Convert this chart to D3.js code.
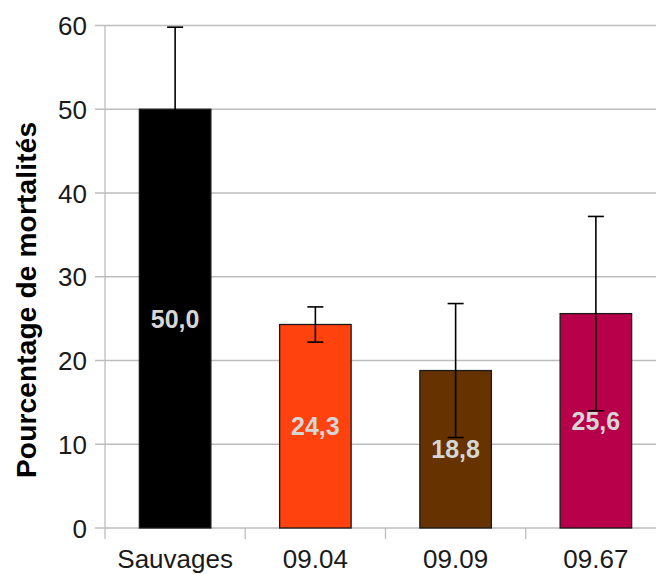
<!DOCTYPE html>
<html>
<head>
<meta charset="utf-8">
<script src="https://cdn.jsdelivr.net/npm/d3@7"></script>
<style>
  html, body { margin: 0; padding: 0; background: #ffffff; }
  svg { display: block; }
</style>
</head>
<body>
<svg id="chart" width="656" height="574"></svg>
<script>
const categories = ["Sauvages", "09.04", "09.09", "09.67"];
const values = [50.0, 24.3, 18.8, 25.6];
const errors = [9.8, 2.1, 8.0, 11.6];
const valueLabels = ["50,0", "24,3", "18,8", "25,6"];
const barColors = ["#000000", "#ff420e", "#663300", "#b8004a"];
const yTicks = [0, 10, 20, 30, 40, 50, 60];
const yTitle = "Pourcentage de mortalités";

(function () {
const svg = d3.select("#chart");
const W = 656;
const pLeft = 105, pRight = 666, pTop = 25.5, pBottom = 528;
const font = "'Liberation Sans', Arial, sans-serif";

const x = d3.scaleBand().domain(categories).range([pLeft, pRight]).padding(0);
const y = d3.scaleLinear().domain([0, 60]).range([pBottom, pTop]);
const barW = x.bandwidth() * 0.51;

// gridlines
svg.append("g").selectAll("line").data(yTicks).join("line")
  .attr("x1", pLeft - 10).attr("x2", W)
  .attr("y1", d => y(d)).attr("y2", d => y(d))
  .attr("stroke", "#bdbdbd").attr("stroke-width", 1.3);

// y axis line
svg.append("line")
  .attr("x1", pLeft).attr("x2", pLeft)
  .attr("y1", y(60)).attr("y2", pBottom + 11)
  .attr("stroke", "#bdbdbd").attr("stroke-width", 1.3);

// category separators
svg.append("g").selectAll("line").data(categories).join("line")
  .attr("x1", d => x(d) + x.bandwidth())
  .attr("x2", d => x(d) + x.bandwidth())
  .attr("y1", pBottom).attr("y2", pBottom + 11)
  .attr("stroke", "#bdbdbd").attr("stroke-width", 1.3);

// y axis labels
const yAxis = d3.axisLeft(y).tickValues(yTicks).tickSize(0).tickPadding(0).tickFormat(d3.format("d"));
const gy = svg.append("g").attr("transform", `translate(${pLeft - 18},0)`).call(yAxis);
gy.select(".domain").remove();
gy.selectAll("text").attr("font-family", font).attr("font-size", 26).attr("fill", "#1a1a1a").attr("dy", "0.35em");

// x axis labels
const xAxis = d3.axisBottom(x).tickSize(0).tickPadding(0);
const gx = svg.append("g").attr("transform", `translate(0,${pBottom})`).call(xAxis);
gx.select(".domain").remove();
gx.selectAll("text").attr("font-family", font).attr("font-size", 26).attr("fill", "#1a1a1a")
  .attr("y", 40).attr("dy", 0);

// bars
svg.append("g").selectAll("rect").data(categories).join("rect")
  .attr("x", d => x(d) + (x.bandwidth() - barW) / 2)
  .attr("y", (d, i) => y(values[i]))
  .attr("width", barW)
  .attr("height", (d, i) => y(0) - y(values[i]))
  .attr("fill", (d, i) => barColors[i])
  .attr("stroke", "#1a1a1a").attr("stroke-width", 1.3);

// error bars
const eb = svg.append("g").attr("stroke", "#000").attr("stroke-width", 1.6);
categories.forEach((c, i) => {
  const cx = x(c) + x.bandwidth() / 2;
  const hi = y(values[i] + errors[i]), lo = y(values[i] - errors[i]);
  eb.append("line").attr("x1", cx).attr("x2", cx).attr("y1", hi).attr("y2", lo);
  eb.append("line").attr("x1", cx - 8).attr("x2", cx + 8).attr("y1", hi).attr("y2", hi);
  eb.append("line").attr("x1", cx - 8).attr("x2", cx + 8).attr("y1", lo).attr("y2", lo);
});

// value labels
svg.append("g").selectAll("text").data(categories).join("text")
  .attr("x", d => x(d) + x.bandwidth() / 2)
  .attr("y", (d, i) => (y(values[i]) + y(0)) / 2)
  .attr("dy", "0.36em")
  .attr("text-anchor", "middle")
  .attr("font-family", font).attr("font-size", 25).attr("font-weight", "bold")
  .attr("fill", "#d6d6d6")
  .text((d, i) => valueLabels[i]);

// y title
svg.append("text")
  .attr("transform", `translate(36,${(122 + 478) / 2}) rotate(-90)`)
  .attr("text-anchor", "middle")
  .attr("font-family", font).attr("font-size", 28).attr("font-weight", "bold")
  .attr("fill", "#000")
  .attr("textLength", 356).attr("lengthAdjust", "spacing")
  .text(yTitle);
})();
</script>
</body>
</html>
